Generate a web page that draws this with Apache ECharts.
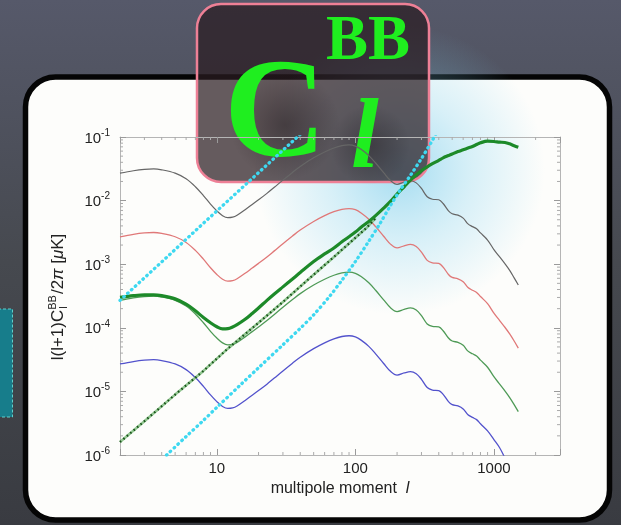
<!DOCTYPE html>
<html><head><meta charset="utf-8">
<script src="https://cdn.jsdelivr.net/npm/echarts@6.0.0/dist/echarts.min.js"></script>
<style>html,body{margin:0;padding:0;background:#45484f;overflow:hidden}#c{width:621px;height:525px}</style>
</head><body><div id="c"></div>
<script>
// multipole grid for the tensor-mode curves
const lTensor = [2,2.5,3,3.5,4,5,6,7,8,9,10,11,12,13,14,16,18,20,23,26,30,35,40,50,60,70,80,90,100,110,125,140,160,180,200,225,250,275,300,330,360,400,430,470,500,550,600,650,700,750,800,900,1000,1100,1200,1300,1400,1500];
// grey curve (top)
const greyVals = [2.7e-2,2.95e-2,3.1e-2,3.15e-2,3.05e-2,2.7e-2,2.2e-2,1.65e-2,1.2e-2,8.8e-3,6.9e-3,5.8e-3,5.4e-3,5.5e-3,5.9e-3,7.2e-3,8.7e-3,1.03e-2,1.3e-2,1.62e-2,2.1e-2,2.75e-2,3.45e-2,4.7e-2,5.8e-2,6.7e-2,7.3e-2,7.5e-2,7.2e-2,6.4e-2,5.1e-2,3.9e-2,2.75e-2,2.05e-2,1.8e-2,1.95e-2,2.05e-2,1.9e-2,1.55e-2,1.15e-2,1.05e-2,1.03e-2,9.0e-3,6.9e-3,6.2e-3,5.9e-3,5.3e-3,4.3e-3,3.9e-3,3.6e-3,3.1e-3,2.4e-3,1.7e-3,1.3e-3,1.02e-3,8.0e-4,6.1e-4,4.7e-4];
// red curve
const redVals = [2.7e-3,2.95e-3,3.1e-3,3.15e-3,3.05e-3,2.7e-3,2.2e-3,1.65e-3,1.2e-3,8.8e-4,6.9e-4,5.8e-4,5.4e-4,5.5e-4,5.9e-4,7.2e-4,8.7e-4,1.03e-3,1.3e-3,1.62e-3,2.1e-3,2.75e-3,3.45e-3,4.7e-3,5.8e-3,6.7e-3,7.3e-3,7.5e-3,7.2e-3,6.4e-3,5.1e-3,3.9e-3,2.75e-3,2.05e-3,1.8e-3,1.95e-3,2.05e-3,1.9e-3,1.55e-3,1.15e-3,1.05e-3,1.03e-3,9.0e-4,6.9e-4,6.2e-4,5.9e-4,5.3e-4,4.3e-4,3.9e-4,3.6e-4,3.1e-4,2.4e-4,1.7e-4,1.3e-4,1.02e-4,8.0e-5,6.2e-5,4.8e-5];
// thin green curve
const greenVals = [2.7e-4,2.95e-4,3.1e-4,3.15e-4,3.05e-4,2.7e-4,2.2e-4,1.65e-4,1.2e-4,8.8e-5,6.9e-5,5.8e-5,5.4e-5,5.5e-5,5.9e-5,7.2e-5,8.7e-5,1.03e-4,1.3e-4,1.62e-4,2.1e-4,2.75e-4,3.45e-4,4.7e-4,5.8e-4,6.7e-4,7.3e-4,7.5e-4,7.2e-4,6.4e-4,5.1e-4,3.9e-4,2.75e-4,2.05e-4,1.8e-4,1.95e-4,2.05e-4,1.9e-4,1.55e-4,1.15e-4,1.05e-4,1.03e-4,9.0e-5,6.9e-5,6.2e-5,5.9e-5,5.3e-5,4.3e-5,3.9e-5,3.6e-5,3.1e-5,2.4e-5,1.7e-5,1.3e-5,1.02e-5,8.0e-6,6.2e-6,4.8e-6];
// blue curve (ends where it leaves the frame)
const blueVals = [2.7e-5,2.95e-5,3.1e-5,3.15e-5,3.05e-5,2.7e-5,2.2e-5,1.65e-5,1.2e-5,8.8e-6,6.9e-6,5.8e-6,5.4e-6,5.5e-6,5.9e-6,7.2e-6,8.7e-6,1.03e-5,1.3e-5,1.62e-5,2.1e-5,2.75e-5,3.45e-5,4.7e-5,5.8e-5,6.7e-5,7.3e-5,7.5e-5,7.2e-5,6.4e-5,5.1e-5,3.9e-5,2.75e-5,2.05e-5,1.8e-5,1.95e-5,2.05e-5,1.9e-5,1.55e-5,1.15e-5,1.05e-5,1.03e-5,9.0e-6,6.9e-6,6.2e-6,5.9e-6,5.3e-6,4.3e-6,3.9e-6,3.6e-6,3.1e-6,2.4e-6,1.75e-6,1.3e-6,9.0e-7];
// thick green total curve
const totalVals = [3.0e-4,3.2e-4,3.3e-4,3.3e-4,3.2e-4,2.85e-4,2.35e-4,1.85e-4,1.45e-4,1.2e-4,1.04e-4,9.6e-5,9.7e-5,1.03e-4,1.12e-4,1.36e-4,1.68e-4,2.05e-4,2.7e-4,3.4e-4,4.4e-4,5.8e-4,7.4e-4,1.1e-3,1.45e-3,1.8e-3,2.25e-3,2.7e-3,3.2e-3,3.8e-3,4.7e-3,5.8e-3,7.6e-3,9.8e-3,1.27e-2,1.65e-2,2.1e-2,2.55e-2,2.95e-2,3.4e-2,3.8e-2,4.3e-2,4.7e-2,5.1e-2,5.4e-2,5.9e-2,6.3e-2,6.7e-2,7.1e-2,7.6e-2,8.1e-2,8.6e-2,8.5e-2,8.3e-2,8.2e-2,7.8e-2,7.3e-2,6.9e-2];
// dotted dark-green (lensing) line
const lLens = [2,3,5,8,12,20,30,45,70,100,120,140];
const lensVals = [1.6e-6,3.4e-6,8.9e-6,2.1e-5,4.7e-5,1.2e-4,2.55e-4,5.6e-4,1.3e-3,2.6e-3,3.7e-3,5.3e-3];
// cyan dotted noise curves
const lNoiseA = [2,3,5,8,12,20,30,40];
const noiseAVals = [2.7e-4,6.1e-4,1.7e-3,4.4e-3,9.9e-3,2.75e-2,6.2e-2,1.1e-1];
const lNoiseB = [4.34,6,8,10,15,20,30,40,50,65,80,100,125,150,180,210,250,300,350,380];
const noiseBVals = [1e-6,1.95e-6,3.5e-6,5.6e-6,1.3e-5,2.35e-5,5.4e-5,9.8e-5,1.6e-4,3.1e-4,5.6e-4,1.1e-3,2.3e-3,4.3e-3,8.5e-3,1.45e-2,2.5e-2,4.6e-2,8.0e-2,1.1e-1];
// axis ranges / ticks
const xRange = [2, 3000];
const yRange = [1e-6, 1e-1];
const xMajor = [10, 100, 1000];
const yExps = [-6, -5, -4, -3, -2, -1];

const zip = (xs, ys) => ys.map((v, i) => [xs[i], v]);
const xMinor = [], yMinor = [];
[1, 10, 100, 1000].forEach(d => { for (let k = 2; k <= 9; k++) { const v = k * d; if (v > xRange[0] && v < xRange[1]) xMinor.push([v, 1e-3]); } });
yExps.slice(0, 5).forEach(e => { for (let k = 2; k <= 9; k++) yMinor.push([100, k * Math.pow(10, e)]); });

const SANS = '"Liberation Sans", Arial, sans-serif';
const SERIF = '"Liberation Serif", "Times New Roman", serif';
const isPow = v => Math.abs(Math.log10(v) - Math.round(Math.log10(v))) < 1e-6;

const mctx = document.createElement('canvas').getContext('2d');
function tw(s, font) { mctx.font = font; return mctx.measureText(s).width; }
const yf = '17px ' + SANS, yfi = 'italic 17px ' + SANS, yfs = '11px ' + SANS;
const parts = [
  { t: 'l(l+1)C', f: yf }, { t: 'BB', f: yfs, sup: true }, { t: '/2', f: yf }, { t: 'π', f: yfi },
  { t: ' [', f: yf }, { t: 'μ', f: yfi }, { t: 'K]', f: yf }
];
let pos = 0; const yNameKids = [];
parts.forEach(p => {
  const w = tw(p.t, p.f);
  yNameKids.push({ type: 'text', x: pos, y: p.sup ? -5 : 0, style: { text: p.t, font: p.f, fill: '#222', textAlign: 'left', textVerticalAlign: 'middle', align: 'left', verticalAlign: 'middle' } });
  if (p.sup) yNameKids.push({ type: 'text', x: pos + 1, y: 6, style: { text: 'l', font: yfs, fill: '#222', textAlign: 'left', textVerticalAlign: 'middle', align: 'left', verticalAlign: 'middle' } });
  pos += w + (p.sup ? 1 : 0);
});
const yNameCx = 58, yNameCy = 297;

const tickStyle = { color: '#9a9a9a', width: 1 };
const frameLine = { show: true, lineStyle: { color: '#b5b5b5', width: 1 } };

function minorX(params, api) {
  const v = api.value(0);
  const b = api.coord([v, yRange[0]]), t = api.coord([v, yRange[1]]);
  return { type: 'group', children: [
    { type: 'line', shape: { x1: b[0], y1: b[1], x2: b[0], y2: b[1] - 3 }, style: { stroke: '#aaa', lineWidth: 1 } },
    { type: 'line', shape: { x1: t[0], y1: t[1], x2: t[0], y2: t[1] + 3 }, style: { stroke: '#aaa', lineWidth: 1 } }
  ] };
}
function minorY(params, api) {
  const v = api.value(1);
  const l = api.coord([xRange[0], v]), r = api.coord([xRange[1], v]);
  return { type: 'group', children: [
    { type: 'line', shape: { x1: l[0], y1: l[1], x2: l[0] + 3, y2: l[1] }, style: { stroke: '#aaa', lineWidth: 1 } },
    { type: 'line', shape: { x1: r[0], y1: r[1], x2: r[0] - 3, y2: r[1] }, style: { stroke: '#aaa', lineWidth: 1 } }
  ] };
}

const line = (name, data, color, width, extra) => Object.assign({
  type: 'line', name, data, showSymbol: false, symbol: 'none', smooth: 0.35, clip: true,
  lineStyle: { color, width }, z: 3, silent: true
}, extra || {});

const T = (text, x, y, font) => ({ type: 'text', x, y, style: { text, font, fill: '#1fee1f', textAlign: 'left', textVerticalAlign: 'middle', align: 'left', verticalAlign: 'middle' } });

const chart = echarts.init(document.getElementById('c'), null, { renderer: 'canvas' });
chart.setOption({
  animation: false,
  backgroundColor: 'transparent',
  grid: { left: 120, top: 137, width: 440, height: 318, containLabel: false },
  xAxis: [
    { type: 'log', logBase: 10, min: xRange[0], max: xRange[1], position: 'bottom',
      axisLine: frameLine, axisTick: { inside: true, length: 6, lineStyle: tickStyle },
      splitLine: { show: false },
      axisLabel: { margin: 6, fontSize: 15, color: '#222', fontFamily: SANS,
        formatter: v => (isPow(v) && xMajor.indexOf(Math.round(v)) >= 0) ? String(Math.round(v)) : '' },
      name: 'multipole moment  {i|l}', nameLocation: 'middle', nameGap: 26,
      nameTextStyle: { fontSize: 16, color: '#222', fontFamily: SANS, rich: { i: { fontStyle: 'italic', fontSize: 16, color: '#222', fontFamily: SANS } } } },
    { type: 'log', logBase: 10, min: xRange[0], max: xRange[1], position: 'top',
      axisLine: frameLine, axisTick: { inside: true, length: 6, lineStyle: tickStyle },
      axisLabel: { show: false }, splitLine: { show: false } }
  ],
  yAxis: [
    { type: 'log', logBase: 10, min: yRange[0], max: yRange[1], position: 'left',
      axisLine: frameLine, axisTick: { inside: true, length: 6, lineStyle: tickStyle },
      splitLine: { show: false },
      axisLabel: { margin: 10, color: '#222', fontFamily: SANS, fontSize: 15,
        formatter: v => isPow(v) ? '{b|10}{s|' + Math.round(Math.log10(v)) + '}' : '',
        rich: { b: { fontSize: 15, color: '#222', fontFamily: SANS, lineHeight: 18, verticalAlign: 'bottom' },
                s: { fontSize: 10, color: '#222', fontFamily: SANS, lineHeight: 10, verticalAlign: 'top' } } } },
    { type: 'log', logBase: 10, min: yRange[0], max: yRange[1], position: 'right',
      axisLine: frameLine, axisTick: { inside: true, length: 6, lineStyle: tickStyle },
      axisLabel: { show: false }, splitLine: { show: false } }
  ],
  series: [
    { type: 'custom', renderItem: minorX, data: xMinor, silent: true, z: 1 },
    { type: 'custom', renderItem: minorY, data: yMinor, silent: true, z: 1 },
    line('grey', zip(lTensor, greyVals), '#666666', 1.2),
    line('red', zip(lTensor, redVals), '#e07878', 1.3),
    line('green', zip(lTensor, greenVals), '#4e9a56', 1.3),
    line('blue', zip(lTensor, blueVals), '#5252cc', 1.3),
    line('lensBase', zip(lLens, lensVals), 'rgba(110,180,110,0.75)', 2.6, { smooth: false }),
    line('lensDots', zip(lLens, lensVals), '#174f17', 2.2, { smooth: false, lineStyle: { color: '#174f17', width: 2.2, type: [1.5, 3] } }),
    line('total', zip(lTensor, totalVals), '#1d8a29', 3.2, { z: 4 }),
    line('noiseA', zip(lNoiseA, noiseAVals), '#3ed8f0', 3.3, { smooth: false, z: 5, lineStyle: { color: '#3ed8f0', width: 3.3, type: [0.6, 4.6], cap: 'round' } }),
    line('noiseB', zip(lNoiseB, noiseBVals), '#3ed8f0', 3.3, { smooth: 0.3, z: 5, lineStyle: { color: '#3ed8f0', width: 3.3, type: [0.6, 4.6], cap: 'round' } })
  ],
  graphic: { elements: [
    { type: 'rect', z: -100, silent: true, shape: { x: 0, y: 0, width: 621, height: 525 },
      style: { fill: new echarts.graphic.LinearGradient(0, 0, 0, 1, [{ offset: 0, color: '#56596a' }, { offset: 0.5, color: '#46494f' }, { offset: 1, color: '#393b41' }]) } },
    { type: 'rect', z: -99, silent: true, shape: { x: -2, y: 309, width: 14.5, height: 108 },
      style: { fill: '#177d8b', stroke: '#5fd0cc', lineWidth: 1, lineDash: [3, 2] } },
    { type: 'rect', z: -98, silent: true, shape: { x: 25.5, y: 77, width: 584, height: 443, r: 30 },
      style: { fill: '#fdfdfb', stroke: '#050505', lineWidth: 5.5 } },
    { type: 'rect', z: -97, silent: true, shape: { x: 255, y: 25, width: 290, height: 290 },
      style: { fill: new echarts.graphic.RadialGradient(0.5, 0.5, 0.5, [{ offset: 0, color: 'rgba(110,200,235,0.62)' }, { offset: 0.5, color: 'rgba(130,210,240,0.3)' }, { offset: 1, color: 'rgba(130,210,240,0)' }]) } },
    { type: 'group', z: 50, silent: true, x: yNameCx, y: yNameCy + pos / 2, rotation: Math.PI / 2, children: yNameKids },
    { type: 'group', z: 100, silent: true, children: [
      { type: 'rect', shape: { x: 197, y: 4, width: 232, height: 178, r: 24 },
        style: { fill: 'rgba(42,28,33,0.72)', stroke: '#ee8096', lineWidth: 2.5 } },
      { type: 'rect', shape: { x: 230, y: 70, width: 110, height: 110 },
        style: { fill: new echarts.graphic.RadialGradient(0.5, 0.5, 0.5, [{ offset: 0, color: 'rgba(15,8,10,0.35)' }, { offset: 1, color: 'rgba(15,8,10,0)' }]) } },
      { type: 'rect', shape: { x: 330, y: 105, width: 80, height: 80 },
        style: { fill: new echarts.graphic.RadialGradient(0.5, 0.5, 0.5, [{ offset: 0, color: 'rgba(15,8,10,0.3)' }, { offset: 1, color: 'rgba(15,8,10,0)' }]) } },
      T('C', 224, 119, 'bold 142px ' + SERIF),
      T('BB', 326, 43, 'bold 63px ' + SERIF),
      T('l', 351, 141, 'italic bold 100px ' + SERIF)
    ] }
  ] }
});
</script>
</body></html>
